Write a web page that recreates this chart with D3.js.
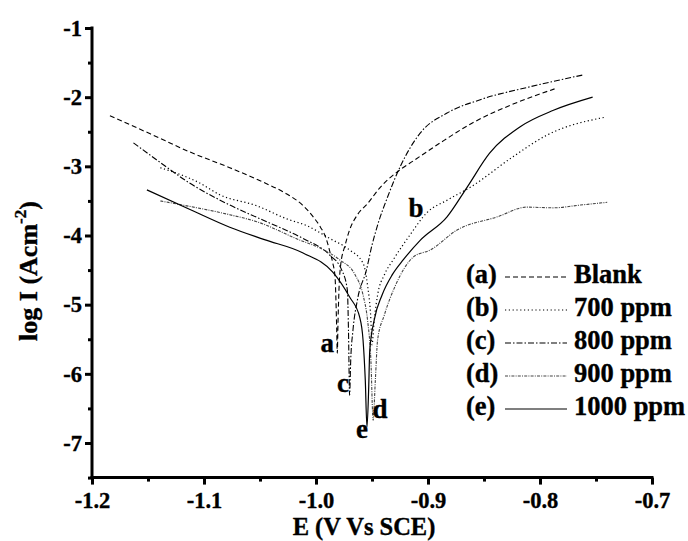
<!DOCTYPE html>
<html><head><meta charset="utf-8">
<script src="https://cdn.jsdelivr.net/npm/d3@7"></script>
<style>
body{margin:0;background:#fff}
svg{display:block}
text{font-family:"Liberation Serif","Times New Roman",serif;font-weight:bold;fill:#000;stroke:#000;stroke-width:0.35px}
</style>
</head><body><svg id="chart" width="688" height="541"></svg>
<script>
// ---- data (E in V vs SCE, log I in A cm^-2) ----
const seriesNames = ["Blank", "700 ppm", "800 ppm", "900 ppm", "1000 ppm"];
const seriesKeys = ["(a)", "(b)", "(c)", "(d)", "(e)"];
const curveLetters = ["a", "b", "c", "d", "e"];

const curveA = [[-1.184,-2.27],[-1.148,-2.53],[-1.113,-2.79],[-1.077,-3.02],[-1.047,-3.23],[-1.026,-3.40],
  [-1.012,-3.56],[-1.003,-3.72],[-0.996,-3.88],[-0.991,-4.04],[-0.988,-4.21],[-0.985,-4.40],[-0.983,-4.60],
  [-0.9822,-4.93],[-0.9815,-5.37],[-0.981,-5.70],[-0.9803,-5.22],[-0.9795,-4.79],[-0.978,-4.43],[-0.974,-4.14],
  [-0.970,-3.92],[-0.963,-3.70],[-0.954,-3.54],[-0.943,-3.31],[-0.925,-3.05],[-0.913,-2.92],[-0.889,-2.66],
  [-0.860,-2.37],[-0.824,-2.10],[-0.787,-1.88]];
const curveB = [[-1.139,-3.02],[-1.104,-3.24],[-1.086,-3.41],[-1.053,-3.57],[-1.026,-3.76],[-1.008,-3.86],
  [-0.988,-4.04],[-0.970,-4.21],[-0.958,-4.40],[-0.954,-4.72],[-0.951,-5.22],[-0.950,-5.58],[-0.948,-5.22],
  [-0.945,-4.86],[-0.939,-4.57],[-0.931,-4.35],[-0.916,-3.99],[-0.901,-3.67],[-0.883,-3.49],[-0.862,-3.30],
  [-0.824,-2.86],[-0.794,-2.55],[-0.742,-2.29]];
const curveC = [[-1.163,-2.66],[-1.142,-2.91],[-1.113,-3.24],[-1.077,-3.56],[-1.047,-3.78],[-1.012,-4.04],
  [-0.988,-4.28],[-0.977,-4.50],[-0.972,-4.79],[-0.971,-5.37],[-0.970,-6.31],[-0.969,-5.80],[-0.967,-5.37],
  [-0.963,-4.93],[-0.955,-4.50],[-0.950,-4.14],[-0.945,-3.85],[-0.936,-3.44],[-0.925,-3.01],[-0.907,-2.52],
  [-0.883,-2.23],[-0.854,-2.04],[-0.809,-1.85],[-0.762,-1.68]];
const curveD = [[-1.139,-3.50],[-1.119,-3.56],[-1.077,-3.70],[-1.053,-3.80],[-1.014,-4.07],[-0.994,-4.20],
  [-0.979,-4.35],[-0.965,-4.57],[-0.958,-4.86],[-0.954,-5.22],[-0.951,-5.80],[-0.949,-6.67],[-0.947,-6.09],
  [-0.945,-5.51],[-0.939,-5.15],[-0.929,-4.72],[-0.913,-4.31],[-0.898,-4.21],[-0.874,-3.92],[-0.838,-3.73],
  [-0.812,-3.59],[-0.788,-3.60],[-0.764,-3.56],[-0.740,-3.52]];
const curveE = [[-1.151,-3.34],[-1.113,-3.62],[-1.077,-3.88],[-1.046,-4.06],[-1.012,-4.25],[-0.985,-4.53],
  [-0.970,-4.89],[-0.961,-5.18],[-0.958,-5.51],[-0.956,-6.09],[-0.9545,-6.77],[-0.953,-6.23],[-0.952,-5.66],
  [-0.948,-5.22],[-0.941,-4.86],[-0.932,-4.57],[-0.922,-4.35],[-0.907,-4.07],[-0.883,-3.73],[-0.865,-3.30],
  [-0.845,-2.81],[-0.818,-2.43],[-0.788,-2.19],[-0.753,-2.00]];
const curves = [curveA, curveB, curveC, curveD, curveE];

// curve letter annotations (data units)
const letterPos = [[-0.990,-5.68],[-0.9107,-3.73],[-0.9759,-6.26],[-0.9429,-6.64],[-0.9589,-6.93]];

const xMajor = [-1.2, -1.1, -1.0, -0.9, -0.8, -0.7];
const xMajorLabels = ["-1.2", "-1.1", "-1.0", "-0.9", "-0.8", "-0.7"];
const xMinor = [-1.15, -1.05, -0.95, -0.85, -0.75];
const yMajor = [-1, -2, -3, -4, -5, -6, -7];
const yMajorLabels = ["-1", "-2", "-3", "-4", "-5", "-6", "-7"];
const yMinor = [-1.5, -2.5, -3.5, -4.5, -5.5, -6.5, -7.5];

// ---- styles ----
const dashes = ["5,3", "1.2,2.6", "6,2,1.5,2", "3,1.2,1,1.2", null];
const colors = ["#000", "#000", "#000", "#444", "#000"];
const widths = [1.1, 1.2, 1.1, 1.1, 1.2];

const svg = d3.select("#chart");
const x = d3.scaleLinear().domain([-1.2, -0.7]).range([92, 652]);
const y = d3.scaleLinear().domain([-1, -7]).range([28, 443]);
const y0 = y(-7.5);

// axes
const xAxis = d3.axisBottom(x).tickValues(xMajor).tickFormat((d, i) => xMajorLabels[i]).tickSize(7).tickPadding(7).tickSizeOuter(0);
const xAxisMinor = d3.axisBottom(x).tickValues(xMinor).tickFormat("").tickSize(4).tickSizeOuter(0);
const yAxis = d3.axisLeft(y).tickValues(yMajor).tickFormat((d, i) => yMajorLabels[i]).tickSize(7).tickPadding(3).tickSizeOuter(0);
const yAxisMinor = d3.axisLeft(y).tickValues(yMinor).tickFormat("").tickSize(4).tickSizeOuter(0);

function styleAxis(g) {
  g.select(".domain").remove();
  g.selectAll(".tick line").attr("stroke", "#000").attr("stroke-width", 3);
  g.selectAll("text").attr("font-size", 22.5).attr("fill", "#000");
}
svg.append("g").attr("transform", `translate(0,${y0})`).call(xAxisMinor).call(styleAxis);
svg.append("g").attr("transform", `translate(0,${y0})`).call(xAxis).call(styleAxis);
svg.append("g").attr("transform", `translate(92,0)`).call(yAxisMinor).call(styleAxis);
svg.append("g").attr("transform", `translate(92,0)`).call(yAxis).call(styleAxis);
svg.append("line").attr("x1", 92).attr("x2", 92).attr("y1", y(-1) - 1.5).attr("y2", y0 + 1.5).attr("stroke", "#000").attr("stroke-width", 3);
svg.append("line").attr("x1", 92 - 1.5).attr("x2", x(-0.7) + 1.5).attr("y1", y0).attr("y2", y0).attr("stroke", "#000").attr("stroke-width", 3);

// axis titles
svg.append("text").attr("x", 364).attr("y", 535).attr("text-anchor", "middle").attr("font-size", 24.5).text("E (V Vs SCE)");
const yt = svg.append("text").attr("transform", "translate(37,271) rotate(-90)").attr("text-anchor", "middle").attr("font-size", 26);
yt.append("tspan").text("log I (Acm");
yt.append("tspan").attr("font-size", 17).attr("dy", -11).text("-2");
yt.append("tspan").attr("dy", 11).text(")");

// curves
const line = d3.line().x(d => x(d[0])).y(d => y(d[1])).curve(d3.curveMonotoneX);
curves.forEach((c, i) => {
  svg.append("path").datum(c).attr("d", line).attr("fill", "none")
    .attr("stroke", colors[i]).attr("stroke-width", widths[i])
    .attr("stroke-dasharray", dashes[i]);
});

// curve letters
curveLetters.forEach((t, i) => {
  svg.append("text").attr("x", x(letterPos[i][0])).attr("y", y(letterPos[i][1]))
    .attr("text-anchor", "middle").attr("font-size", 27).text(t);
});

// legend
const lg = svg.append("g");
seriesNames.forEach((n, i) => {
  const by = 283 + i * 33;
  lg.append("text").attr("x", 466).attr("y", by).attr("font-size", 26.5).text(seriesKeys[i]);
  lg.append("line").attr("x1", 505).attr("x2", 567).attr("y1", by - 6).attr("y2", by - 6)
    .attr("stroke", colors[i]).attr("stroke-width", widths[i]).attr("stroke-dasharray", dashes[i]);
  lg.append("text").attr("x", 574).attr("y", by).attr("font-size", 26.5).text(n);
});
</script>
</body></html>
